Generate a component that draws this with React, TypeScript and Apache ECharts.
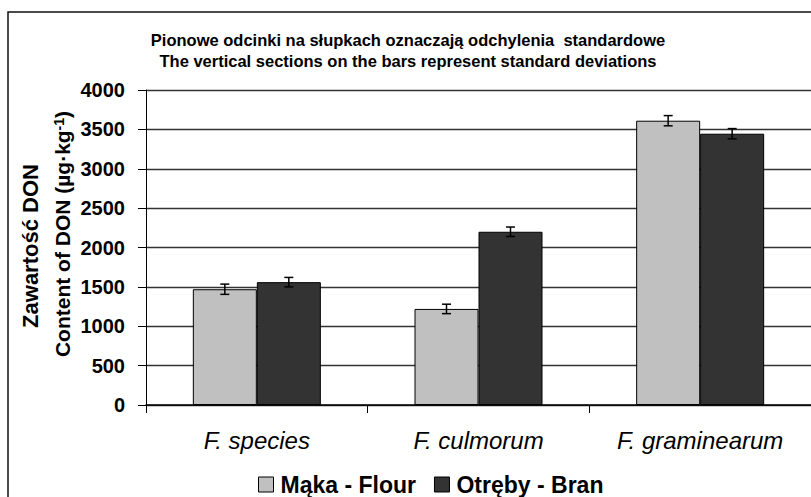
import React, { useEffect, useRef } from "react";
import * as echarts from "echarts";

const categories = ["F. species", "F. culmorum", "F. graminearum"];
const flourValues = [1470, 1220, 3610];
const flourSD = [65, 60, 65];
const branValues = [1560, 2200, 3445];
const branSD = [60, 60, 65];
const seriesNames = ["Mąka - Flour", "Otręby - Bran"];
const yTicks = { min: 0, max: 4000, interval: 500 };
const titleLines = [
  "Pionowe odcinki na słupkach oznaczają odchylenia  standardowe",
  "The vertical sections on the bars represent standard deviations",
];
const yTitle1 = "Zawartość DON";
const yTitle2 = "Content of DON (µg·kg{sup|-1})";

const FONT = "'Liberation Sans', Arial, sans-serif";
const BAR_W = 64;

function errorSeries(values: number[], sds: number[], offset: number) {
  return {
    type: "custom",
    silent: true,
    z: 10,
    data: values.map((v, i) => [i, v, sds[i]]),
    encode: { x: 0, y: 1 },
    renderItem: (params: any, api: any) => {
      const idx = api.value(0);
      const v = api.value(1);
      const sd = api.value(2);
      const hi = api.coord([idx, v + sd]);
      const lo = api.coord([idx, v - sd]);
      const x = hi[0] + offset;
      const cap = 4.5;
      const style = { stroke: "#000", lineWidth: 1.5 };
      return {
        type: "group",
        children: [
          { type: "line", shape: { x1: x, y1: hi[1], x2: x, y2: lo[1] }, style },
          { type: "line", shape: { x1: x - cap, y1: hi[1], x2: x + cap, y2: hi[1] }, style },
          { type: "line", shape: { x1: x - cap, y1: lo[1], x2: x + cap, y2: lo[1] }, style },
        ],
      };
    },
  };
}

export default function App() {
  const ref = useRef<HTMLDivElement>(null);
  useEffect(() => {
    if (!ref.current) return;
    const chart = echarts.init(ref.current, null, { renderer: "svg" });
    chart.setOption({
      animation: false,
      backgroundColor: "#fff",
      textStyle: { fontFamily: FONT },
      grid: { left: 146, top: 90, height: 315, width: 669 },
      legend: {
        data: seriesNames,
        left: 253,
        top: 468,
        icon: "rect",
        itemWidth: 15,
        itemHeight: 15,
        itemGap: 18,
        itemStyle: { borderColor: "#000", borderWidth: 1 },
        textStyle: { fontFamily: FONT, fontWeight: "bold", fontSize: 23, color: "#000", padding: [0, 0, 0, 2] },
      },
      xAxis: {
        type: "category",
        data: categories,
        axisLine: { lineStyle: { color: "#000", width: 1.5 } },
        axisTick: { show: true, length: 8, lineStyle: { color: "#000" } },
        axisLabel: { fontFamily: FONT, fontStyle: "italic", fontSize: 24, color: "#000", margin: 23 },
      },
      yAxis: {
        type: "value",
        min: yTicks.min,
        max: yTicks.max,
        interval: yTicks.interval,
        axisLine: { show: true, lineStyle: { color: "#000", width: 1 } },
        axisTick: { show: true, length: 8, lineStyle: { color: "#000" } },
        axisLabel: {
          fontFamily: FONT,
          fontWeight: "bold",
          fontSize: 20,
          color: "#000",
          margin: 21,
          formatter: (v: number) => String(v),
        },
        splitLine: { show: true, lineStyle: { color: "#333", width: 1.3 } },
      },
      series: [
        {
          name: seriesNames[0],
          type: "bar",
          data: flourValues,
          barWidth: BAR_W,
          barGap: "0%",
          itemStyle: { color: "#c0c0c0", borderColor: "#000", borderWidth: 1 },
        },
        {
          name: seriesNames[1],
          type: "bar",
          data: branValues,
          barWidth: BAR_W,
          barGap: "0%",
          itemStyle: { color: "#333333", borderColor: "#000", borderWidth: 1 },
        },
        errorSeries(flourValues, flourSD, -BAR_W / 2),
        errorSeries(branValues, branSD, BAR_W / 2),
      ],
      graphic: [
        {
          type: "rect",
          shape: { x: 8, y: 12, width: 900, height: 600 },
          style: { fill: "none", stroke: "#111", lineWidth: 1.5 },
          silent: true,
        },
        {
          type: "text",
          x: 408,
          y: 50,
          style: {
            text: titleLines.join("\n"),
            fontFamily: FONT,
            fontWeight: "bold",
            fontSize: 16.5,
            lineHeight: 21,
            align: "center",
            verticalAlign: "middle",
            fill: "#000",
          },
        },
        {
          type: "text",
          x: 30,
          y: 246,
          rotation: Math.PI / 2,
          style: {
            text: yTitle1,
            fontFamily: FONT,
            fontWeight: "bold",
            fontSize: 22,
            align: "center",
            verticalAlign: "middle",
            fill: "#000",
          },
        },
        {
          type: "text",
          x: 62,
          y: 234,
          rotation: Math.PI / 2,
          style: {
            text: yTitle2,
            fontFamily: FONT,
            fontWeight: "bold",
            fontSize: 21,
            align: "center",
            verticalAlign: "middle",
            fill: "#000",
            rich: {
              sup: { fontFamily: FONT, fontWeight: "bold", fontSize: 14, verticalAlign: "top", fill: "#000" },
            },
          },
        },
      ],
    });
    return () => chart.dispose();
  }, []);
  return <div ref={ref} style={{ position: "absolute", left: 0, top: 0, width: 811, height: 497 }} />;
}
